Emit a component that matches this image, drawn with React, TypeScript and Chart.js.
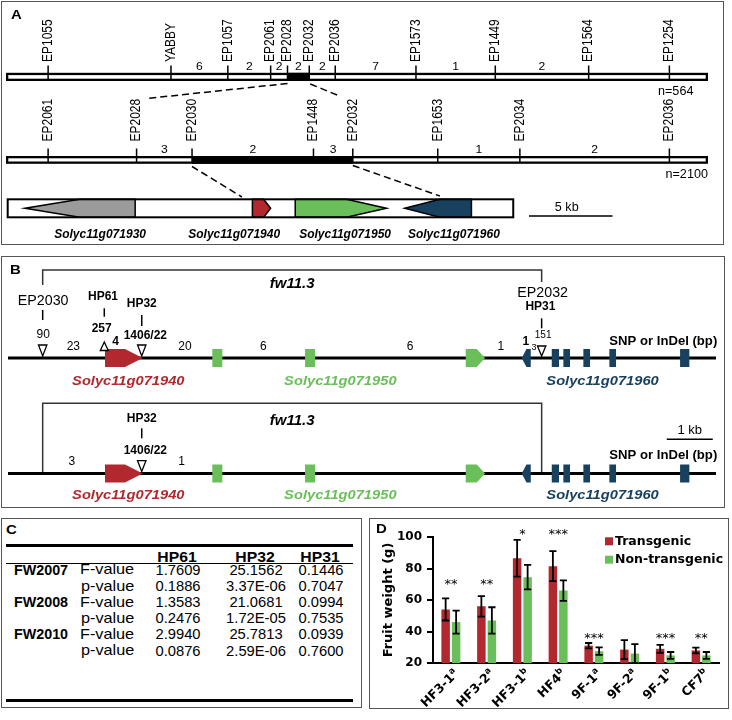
import React, { useEffect, useRef } from 'react';
import { Chart, registerables } from 'chart.js';

Chart.register(...registerables);

const SANS = '"Liberation Sans", Arial, Helvetica, sans-serif';
const DJ = '"DejaVu Sans", sans-serif';
const RED = '#b2282e';
const GREEN = '#6abf5a';
const NAVY = '#18405f';
const GREY = '#9b9b9b';

// ---------------- Panel A : genetic maps (map units 0..1000) ----------------
const mapMarkers1 = ['EP1055', 'YABBY', 'EP1057', 'EP2061', 'EP2028', 'EP2032', 'EP2036', 'EP1573', 'EP1449', 'EP1564', 'EP1254'];
const mapPos1 = [60, 235, 316, 377, 401, 432, 469, 584, 697, 830, 945];
const mapRecomb1 = ['', '6', '2', '2', '2', '2', '7', '1', '2', ''];
const mapMarkers2 = ['EP2061', 'EP2028', 'EP2030', 'EP1448', 'EP2032', 'EP1653', 'EP2034', 'EP2036'];
const mapPos2 = [60, 186, 265, 438, 494, 615, 732, 945];
const mapRecomb2 = ['', '3', '2', '3', '', '1', '2'];
const popSizes = ['n=564', 'n=2100'];

const geneNames = ['Solyc11g071930', 'Solyc11g071940', 'Solyc11g071950', 'Solyc11g071960'];
const geneColors = [GREY, RED, GREEN, NAVY];
const physGeneStart = [27, 351, 412, 568];
const physGeneHead = [105, 367, 485, 618];
const physGeneEnd = [184, 377, 542, 663];
const physGeneStrand = [-1, 1, 1, -1];
const physLabelPos = [134, 325, 483, 638];
const physRegion = [1, 724];
const physZoom = [336, 618];
const scaleBarA = [745, 864];
const scaleBarALabel = '5 kb';

// ---------------- Panel B : fine map (kb) ----------------
const bLength = 15.39;
const bBracket = [0.754, 11.6];
const bSnpLabel1 = ['90', '257', '1406/22', '151'];
const bSnpPos1 = [0.754, 2.093, 2.907, 11.6];
const bHpNames = ['', 'HP61', 'HP32', 'HP31'];
const bEpNames = ['EP2030', '', '', 'EP2032'];
const bCounts1 = ['23', '4', '20', '6', '6', '1', '1', '3'];
const bCountPos1 = [1.42, 2.337, 3.848, 5.55, 8.739, 10.711, 11.254, 11.435];
const bCountStyle1 = ['n', 'b', 'n', 'n', 'n', 'n', 'b', 's'];
const bCounts2 = ['3', '1'];
const bCountPos2 = [1.385, 3.776];
const exonStart = [2.109, 4.441, 6.457, 9.95, 11.167, 11.82, 12.072, 12.507, 13.072, 14.609];
const exonHead = [2.543, 0, 0, 10.189, 11.27, 0, 0, 0, 0, 0];
const exonEnd = [2.928, 4.659, 6.674, 10.37, 11.363, 11.978, 12.217, 12.652, 13.217, 14.811];
const exonStrand = [1, 0, 0, 1, -1, 0, 0, 0, 0, 0];
const exonGene = [0, 1, 1, 1, 2, 2, 2, 2, 2, 2];
const bGeneNames = ['Solyc11g071940', 'Solyc11g071950', 'Solyc11g071960'];
const bGeneColors = [RED, GREEN, NAVY];
const bGeneLabelPos = [2.615, 7.224, 12.924];
const bScaleBar = [14.32, 15.32];
const bScaleLabel = '1 kb';
const qtlName = 'fw11.3';

// ---------------- Panel C : table ----------------
const snpCols = ['HP61', 'HP32', 'HP31'];
const trialYears = ['FW2007', 'FW2008', 'FW2010'];
const statNames = ['F-value', 'p-value'];
const fValues = [
  ['1.7609', '25.1562', '0.1446'],
  ['1.3583', '21.0681', '0.0994'],
  ['2.9940', '25.7813', '0.0939'],
];
const pValues = [
  ['0.1886', '3.37E-06', '0.7047'],
  ['0.2476', '1.72E-05', '0.7535'],
  ['0.0876', '2.59E-06', '0.7600'],
];

// ---------------- Panel D : fruit weight ----------------
const lines = ['HF3-1', 'HF3-2', 'HF3-1', 'HF4', '9F-1', '9F-2', '9F-1', 'CF7'];
const lineSup = ['a', 'a', 'b', 'b', 'a', 'a', 'b', 'b'];
const transgenic = [54, 56, 86.5, 81.5, 31, 28.5, 29, 28];
const transgenicErr = [7, 6.5, 11.7, 9.5, 1.7, 6, 2.5, 1.8];
const nonTransgenic = [46, 47, 74.5, 66, 27.5, 26, 24.8, 24.8];
const nonTransgenicErr = [7.3, 8.4, 7.8, 6.5, 2.4, 6, 2.2, 2.2];
const significance = ['**', '**', '*', '***', '***', '', '***', '**'];
const sigLevel = [72, 72, 104, 104, 38, 0, 38, 38];
const yMin = 20;
const yMax = 100;
const yStep = 20;

// ---------------- helpers ----------------
function txt(ctx: any, s: string, x: number, y: number, font: string, o: any = {}) {
  ctx.save();
  ctx.translate(x, y);
  if (o.sx) ctx.scale(o.sx, 1);
  if (o.rot) ctx.rotate(o.rot);
  ctx.font = font;
  ctx.fillStyle = o.color || '#000';
  ctx.textAlign = o.align || 'center';
  ctx.textBaseline = o.baseline || 'alphabetic';
  ctx.fillText(s, 0, 0);
  ctx.restore();
}

function seg(ctx: any, x0: number, y0: number, x1: number, y1: number) {
  ctx.beginPath();
  ctx.moveTo(x0, y0);
  ctx.lineTo(x1, y1);
  ctx.stroke();
}

function geneShape(ctx: any, xs: number, xh: number, xe: number, strand: number, cy: number, half: number) {
  ctx.beginPath();
  if (strand > 0) {
    ctx.moveTo(xs, cy - half);
    ctx.lineTo(xh, cy - half);
    ctx.lineTo(xe, cy);
    ctx.lineTo(xh, cy + half);
    ctx.lineTo(xs, cy + half);
  } else if (strand < 0) {
    ctx.moveTo(xs, cy);
    ctx.lineTo(xh, cy - half);
    ctx.lineTo(xe, cy - half);
    ctx.lineTo(xe, cy + half);
    ctx.lineTo(xh, cy + half);
  } else {
    ctx.rect(xs, cy - half, xe - xs, 2 * half);
  }
  ctx.closePath();
}

function tri(ctx: any, x: number, y0: number, y1: number, up: boolean) {
  ctx.save();
  ctx.beginPath();
  if (up) {
    ctx.moveTo(x, y0);
    ctx.lineTo(x + 4, y1);
    ctx.lineTo(x - 4, y1);
  } else {
    ctx.moveTo(x - 4.2, y0);
    ctx.lineTo(x + 4.2, y0);
    ctx.lineTo(x, y1);
  }
  ctx.closePath();
  ctx.fillStyle = '#fff';
  ctx.fill();
  ctx.strokeStyle = '#000';
  ctx.lineWidth = 1.3;
  ctx.stroke();
  ctx.restore();
}

function drawMap(ctx: any, X: any, pos: number[], names: string[], recomb: string[], hiA: number, hiB: number, g: any) {
  const x0 = X(0);
  const x1 = X(1000);
  ctx.fillStyle = '#000';
  ctx.fillRect(x0, g.top, x1 - x0, g.h);
  ctx.fillStyle = '#fff';
  ctx.fillRect(x0 + 2.3, g.top + 2.3, x1 - x0 - 4.6, g.h - 4.6);
  ctx.fillStyle = '#000';
  ctx.fillRect(X(pos[hiA]), g.top, X(pos[hiB]) - X(pos[hiA]), g.h);
  ctx.strokeStyle = '#000';
  ctx.lineWidth = 1.5;
  pos.forEach((p, i) => {
    const x = X(p);
    seg(ctx, x, g.tickTop, x, g.top + g.h - 1.5);
    txt(ctx, names[i], x, g.labelStart, `12px ${SANS}`, { rot: -Math.PI / 2, align: 'left', baseline: 'middle', sx: 1.15 });
  });
  recomb.forEach((r, i) => {
    if (r) txt(ctx, r, (X(pos[i]) + X(pos[i + 1])) / 2, g.numBase, `11px ${SANS}`, { sx: 1.1 });
  });
}

const aPlugin = {
  id: 'panelA',
  afterDraw(chart: any) {
    const ctx = chart.ctx;
    const X = (v: number) => chart.scales.x.getPixelForValue(v);
    ctx.save();
    txt(ctx, 'A', 11, 18.5, `bold 13px ${SANS}`, { align: 'left', sx: 1.15 });
    drawMap(ctx, X, mapPos1, mapMarkers1, mapRecomb1, 4, 5, { top: 72.8, h: 8.2, tickTop: 65.5, labelStart: 62, numBase: 70 });
    drawMap(ctx, X, mapPos2, mapMarkers2, mapRecomb2, 2, 4, { top: 156, h: 7.8, tickTop: 148.5, labelStart: 141.5, numBase: 153 });
    txt(ctx, popSizes[0], 675.7, 95, `12px ${SANS}`, { sx: 1.05 });
    txt(ctx, popSizes[1], 686.7, 177.5, `12px ${SANS}`, { sx: 1.05 });

    ctx.setLineDash([7, 4]);
    ctx.lineWidth = 1.5;
    ctx.strokeStyle = '#000';
    seg(ctx, X(mapPos1[4]), 83.5, X(mapPos2[1]) + 10, 98.5);
    seg(ctx, X(mapPos1[5]) + 1, 84, X(mapPos2[4]) - 12, 96.5);
    seg(ctx, X(mapPos2[2]), 166.5, X(physZoom[0]), 197);
    seg(ctx, X(mapPos2[4]), 165.5, X(physZoom[1]), 196);
    ctx.setLineDash([]);

    const gy0 = 199.3;
    const gy1 = 217.3;
    const gcy = (gy0 + gy1) / 2;
    geneNames.forEach((n, i) => {
      geneShape(ctx, X(physGeneStart[i]), X(physGeneHead[i]), X(physGeneEnd[i]), physGeneStrand[i], gcy, 9);
      ctx.fillStyle = geneColors[i];
      ctx.fill();
      ctx.strokeStyle = '#000';
      ctx.lineWidth = 1.5;
      ctx.stroke();
      txt(ctx, n, X(physLabelPos[i]), 237.5, `italic bold 12px ${SANS}`, {});
    });
    ctx.lineWidth = 2;
    ctx.strokeStyle = '#000';
    ctx.strokeRect(X(physRegion[0]) + 1, gy0, X(physRegion[1]) - X(physRegion[0]) - 2, gy1 - gy0);

    ctx.lineWidth = 1.5;
    seg(ctx, X(scaleBarA[0]), 216, X(scaleBarA[1]), 216);
    txt(ctx, scaleBarALabel, (X(scaleBarA[0]) + X(scaleBarA[1])) / 2 - 4, 210.5, `12px ${SANS}`, { sx: 1.05 });
    ctx.restore();
  },
};

function drawBLine(ctx: any, X: any, y: number) {
  ctx.fillStyle = '#000';
  ctx.fillRect(X(0), y - 1.5, X(bLength) - X(0), 3);
  exonStart.forEach((s, i) => {
    geneShape(ctx, X(s), X(exonHead[i] || s), X(exonEnd[i]), exonStrand[i], y, 9);
    ctx.fillStyle = bGeneColors[exonGene[i]];
    ctx.fill();
  });
}

const bPlugin = {
  id: 'panelB',
  afterDraw(chart: any) {
    const ctx = chart.ctx;
    const X = (v: number) => chart.scales.x.getPixelForValue(v);
    ctx.save();
    ctx.translate(0, -250);
    txt(ctx, 'B', 10, 273.5, `bold 13px ${SANS}`, { align: 'left', sx: 1.15 });
    const xl = X(bBracket[0]);
    const xr = X(bBracket[1]);
    const BOLD12 = `bold 12px ${SANS}`;
    const REG12 = `12px ${SANS}`;

    // ---- row 1 ----
    ctx.strokeStyle = '#333';
    ctx.lineWidth = 1.5;
    ctx.beginPath();
    ctx.moveTo(xl, 285);
    ctx.lineTo(xl, 270);
    ctx.lineTo(xr, 270);
    ctx.lineTo(xr, 282);
    ctx.stroke();
    txt(ctx, qtlName, (xl + xr) / 2, 288, `italic bold 15px ${SANS}`, {});
    drawBLine(ctx, X, 358);

    const sp = bSnpPos1.map(X);
    ctx.strokeStyle = '#000';
    ctx.lineWidth = 1.5;
    // EP2030 / 90
    txt(ctx, bEpNames[0], sp[0] + 0.5, 305, `15px ${SANS}`, { sx: 0.95 });
    seg(ctx, sp[0], 310, sp[0], 320);
    txt(ctx, bSnpLabel1[0], sp[0] + 0.5, 338, REG12, {});
    tri(ctx, sp[0], 345, 356, false);
    // HP61 / 257
    txt(ctx, bHpNames[1], sp[1] - 1.3, 300, BOLD12, {});
    seg(ctx, sp[1], 308.3, sp[1], 316.7);
    txt(ctx, bSnpLabel1[1], sp[1] - 2.6, 331.7, BOLD12, {});
    // HP32 / 1406/22
    txt(ctx, bHpNames[2], sp[2], 307.3, BOLD12, {});
    seg(ctx, sp[2], 315, sp[2], 326);
    txt(ctx, bSnpLabel1[2], sp[2] + 3.6, 339.3, BOLD12, {});
    // EP2032 / HP31 / 151
    txt(ctx, bEpNames[3], sp[3] + 1, 296.5, `15px ${SANS}`, { sx: 0.95 });
    txt(ctx, bHpNames[3], sp[3] - 1.2, 309.5, BOLD12, {});
    seg(ctx, sp[3], 318.3, sp[3], 328.3);
    txt(ctx, bSnpLabel1[3], sp[3] + 1.5, 337.5, `10px ${SANS}`, {});

    bCounts1.forEach((c, i) => {
      const st = bCountStyle1[i];
      const x = X(bCountPos1[i]);
      if (st === 'b') txt(ctx, c, x, i === 1 ? 345 : 344.5, BOLD12, {});
      else if (st === 's') txt(ctx, c, x, 350, `9px ${SANS}`, {});
      else txt(ctx, c, x, 350, REG12, {});
    });
    tri(ctx, sp[1], 342, 350.5, true);
    tri(ctx, sp[2], 345, 356, false);
    tri(ctx, sp[3], 346, 356, false);
    txt(ctx, 'SNP or InDel (bp)', 663.3, 344.5, `bold 12.5px ${SANS}`, { sx: 1.05 });
    bGeneNames.forEach((n, i) => {
      txt(ctx, n, X(bGeneLabelPos[i]), 384.5, `italic bold 13px ${SANS}`, { color: bGeneColors[i], sx: 1.13 });
    });

    // ---- row 2 ----
    drawBLine(ctx, X, 473.5);
    ctx.strokeStyle = '#333';
    ctx.lineWidth = 1.5;
    ctx.beginPath();
    ctx.moveTo(xl, 472);
    ctx.lineTo(xl, 403.3);
    ctx.lineTo(xr, 403.3);
    ctx.lineTo(xr, 472);
    ctx.stroke();
    txt(ctx, qtlName, (xl + xr) / 2, 424.5, `italic bold 15px ${SANS}`, {});
    ctx.strokeStyle = '#000';
    txt(ctx, bHpNames[2], sp[2], 421.7, BOLD12, {});
    seg(ctx, sp[2], 428.3, sp[2], 438.3);
    txt(ctx, bSnpLabel1[2], sp[2] + 3.6, 454.3, BOLD12, {});
    tri(ctx, sp[2], 460.7, 471.5, false);
    bCounts2.forEach((c, i) => txt(ctx, c, X(bCountPos2[i]), 465, REG12, {}));
    ctx.lineWidth = 1.5;
    ctx.strokeStyle = '#000';
    seg(ctx, X(bScaleBar[0]), 439.3, X(bScaleBar[1]), 439.3);
    txt(ctx, bScaleLabel, (X(bScaleBar[0]) + X(bScaleBar[1])) / 2, 433.5, `13px ${SANS}`, {});
    txt(ctx, 'SNP or InDel (bp)', 663.3, 458.5, `bold 12.5px ${SANS}`, { sx: 1.05 });
    bGeneNames.forEach((n, i) => {
      txt(ctx, n, X(bGeneLabelPos[i]), 498.8, `italic bold 13px ${SANS}`, { color: bGeneColors[i], sx: 1.13 });
    });
    ctx.restore();
  },
};

const dPlugin = {
  id: 'panelD',
  afterDatasetsDraw(chart: any) {
    const ctx = chart.ctx;
    const ys = chart.scales.y;
    const errs = [transgenicErr, nonTransgenicErr];
    ctx.save();
    ctx.strokeStyle = '#000';
    ctx.lineWidth = 1.8;
    chart.data.datasets.forEach((ds: any, di: number) => {
      chart.getDatasetMeta(di).data.forEach((el: any, i: number) => {
        const v = ds.data[i];
        const e = errs[di][i];
        const t = ys.getPixelForValue(v + e);
        const b = ys.getPixelForValue(v - e);
        ctx.beginPath();
        ctx.moveTo(el.x, t);
        ctx.lineTo(el.x, b);
        ctx.moveTo(el.x - 3.6, t);
        ctx.lineTo(el.x + 3.6, t);
        ctx.moveTo(el.x - 3.6, b);
        ctx.lineTo(el.x + 3.6, b);
        ctx.stroke();
      });
    });
    ctx.restore();
  },
  afterDraw(chart: any) {
    const ctx = chart.ctx;
    const xs = chart.scales.x;
    const ys = chart.scales.y;
    const area = chart.chartArea;
    ctx.save();
    txt(ctx, 'D', 6, 14.3, `bold 13px ${SANS}`, { align: 'left', sx: 1.15 });
    significance.forEach((s, i) => {
      if (!s) return;
      txt(ctx, s, xs.getPixelForValue(i), ys.getPixelForValue(sigLevel[i]) + 7, `13px ${DJ}`, {});
    });
    chart.data.datasets.forEach((ds: any, di: number) => {
      ctx.fillStyle = ds.backgroundColor;
      ctx.fillRect(area.right - 114, area.top + 0.3 + di * 18.4, 8, 8);
      txt(ctx, ds.label, area.right - 104, area.top + 4.3 + di * 18.4, `bold 12.5px ${DJ}`, { align: 'left', baseline: 'middle' });
    });
    const mainF = `bold 12.5px ${DJ}`;
    const supF = `bold 8.5px ${DJ}`;
    lines.forEach((l, i) => {
      const xc = xs.getPixelForValue(i);
      ctx.save();
      ctx.translate(xc + 6, area.bottom + 9);
      ctx.rotate(-Math.PI / 4);
      ctx.fillStyle = '#000';
      ctx.textBaseline = 'middle';
      ctx.textAlign = 'left';
      ctx.font = mainF;
      const w = ctx.measureText(l).width;
      ctx.font = supF;
      const ws = ctx.measureText(lineSup[i]).width;
      ctx.font = mainF;
      ctx.fillText(l, -(w + ws), 0);
      ctx.font = supF;
      ctx.fillText(lineSup[i], -ws, -4);
      ctx.restore();
    });
    txt(ctx, 'Fruit weight (g)', 19, (area.top + area.bottom) / 2, `bold 13px ${DJ}`, { rot: -Math.PI / 2, baseline: 'middle' });
    ctx.restore();
  },
};

function makeA(canvas: HTMLCanvasElement) {
  return new Chart(canvas, {
    type: 'scatter',
    data: { datasets: [] },
    options: {
      animation: false,
      responsive: false,
      events: [],
      layout: { padding: { left: 6, right: 24, top: 0, bottom: 0 } },
      plugins: { legend: { display: false }, tooltip: { enabled: false } },
      scales: {
        x: { type: 'linear', min: 0, max: 1000, display: false },
        y: { type: 'linear', min: 0, max: 1, display: false },
      },
    },
    plugins: [aPlugin],
  } as any);
}

function makeB(canvas: HTMLCanvasElement) {
  return new Chart(canvas, {
    type: 'scatter',
    data: { datasets: [] },
    options: {
      animation: false,
      responsive: false,
      events: [],
      layout: { padding: { left: 8, right: 16, top: 0, bottom: 0 } },
      plugins: { legend: { display: false }, tooltip: { enabled: false } },
      scales: {
        x: { type: 'linear', min: 0, max: bLength, display: false },
        y: { type: 'linear', min: 0, max: 1, display: false },
      },
    },
    plugins: [bPlugin],
  } as any);
}

function makeD(canvas: HTMLCanvasElement) {
  const tickFont = { family: DJ, weight: 'bold', size: 12 };
  return new Chart(canvas, {
    type: 'bar',
    data: {
      labels: lines.map((l, i) => l + lineSup[i]),
      datasets: [
        { label: 'Transgenic', data: transgenic, backgroundColor: RED, barPercentage: 0.81, categoryPercentage: 0.587 },
        { label: 'Non-transgenic', data: nonTransgenic, backgroundColor: GREEN, barPercentage: 0.81, categoryPercentage: 0.587 },
      ],
    },
    options: {
      animation: false,
      responsive: false,
      events: [],
      layout: { padding: { left: 0, right: 8, top: 18, bottom: 0 } },
      plugins: { legend: { display: false }, tooltip: { enabled: false } },
      scales: {
        x: {
          grid: { display: false },
          border: { display: true, color: '#000', width: 2 },
          ticks: { display: false },
          afterFit: (s: any) => { s.height = 44; },
        },
        y: {
          min: yMin,
          max: yMax,
          ticks: { stepSize: yStep, color: '#000', font: tickFont, padding: 5 },
          grid: { display: true, drawOnChartArea: false, drawTicks: true, tickLength: 6, color: '#000', lineWidth: 2 },
          border: { display: true, color: '#000', width: 2 },
          afterFit: (s: any) => { s.width = 63; },
        },
      },
    },
    plugins: [dPlugin],
  } as any);
}

function ChartCanvas({ left, top, width, height, make }: any) {
  const ref = useRef<HTMLCanvasElement | null>(null);
  useEffect(() => {
    const c = make(ref.current);
    return () => c.destroy();
  }, []);
  return (
    <canvas
      ref={ref}
      width={width}
      height={height}
      style={{ position: 'absolute', left, top, width, height }}
    />
  );
}

function Txt({ x, y, size, bold, align, sx, children }: any) {
  const style: any = {
    position: 'absolute',
    top: y - 0.8465 * size,
    whiteSpace: 'nowrap',
    fontFamily: SANS,
    fontSize: size,
    lineHeight: `${size}px`,
    fontWeight: bold ? 700 : 400,
    color: '#000',
  };
  if (sx) {
    style.transform = `scaleX(${sx})`;
    style.transformOrigin = align === 'center' ? '50% 50%' : '0 50%';
  }
  if (align === 'center') {
    return <div style={{ ...style, left: x - 100, width: 200, textAlign: 'center' }}>{children}</div>;
  }
  return <div style={{ ...style, left: x }}>{children}</div>;
}

function Box({ left, top, width, height }: any) {
  return (
    <div
      style={{
        position: 'absolute',
        left,
        top,
        width,
        height,
        boxSizing: 'border-box',
        border: '1px solid #555',
      }}
    />
  );
}

function PanelC() {
  const colCenters = [176.5, 254.5, 319.5];
  const rowBase0 = 574.7;
  const rowStep = 16.2;
  const items: any[] = [];
  snpCols.forEach((c, j) => {
    items.push(<Txt key={'h' + j} x={colCenters[j]} y={561.3} size={15} bold align="center" sx={1.05}>{c}</Txt>);
  });
  trialYears.forEach((yr, r) => {
    const b1 = rowBase0 + rowStep * (2 * r);
    const b2 = b1 + rowStep;
    items.push(<Txt key={'y' + r} x={14} y={b1} size={14.3} bold>{yr}</Txt>);
    items.push(<Txt key={'f' + r} x={79.5} y={b1} size={14.5} sx={1.12}>{statNames[0]}</Txt>);
    items.push(<Txt key={'p' + r} x={80.5} y={b2} size={14.5} sx={1.12}>{statNames[1]}</Txt>);
    fValues[r].forEach((v, j) => {
      items.push(<Txt key={'fv' + r + j} x={colCenters[j] + 1} y={b1} size={14.3} align="center" sx={1.03}>{v}</Txt>);
    });
    pValues[r].forEach((v, j) => {
      items.push(<Txt key={'pv' + r + j} x={colCenters[j] + 1} y={b2} size={14.3} align="center" sx={1.03}>{v}</Txt>);
    });
  });
  return (
    <>
      <Txt x={6} y={534} size={13} bold sx={1.15}>C</Txt>
      <div style={{ position: 'absolute', left: 6, top: 544, width: 347, height: 3, background: '#000' }} />
      <div style={{ position: 'absolute', left: 6, top: 563, width: 347, height: 1, background: '#000' }} />
      <div style={{ position: 'absolute', left: 6, top: 699, width: 347, height: 3, background: '#000' }} />
      {items}
    </>
  );
}

export default function App() {
  return (
    <div style={{ position: 'absolute', left: 0, top: 0, width: 732, height: 720, background: '#fff', overflow: 'hidden' }}>
      <Box left={1} top={1} width={723} height={244} />
      <Box left={1} top={256} width={724} height={252} />
      <Box left={1} top={518} width={361} height={190} />
      <Box left={369} top={518} width={360} height={191} />
      <ChartCanvas left={0} top={0} width={732} height={250} make={makeA} />
      <ChartCanvas left={0} top={250} width={732} height={262} make={makeB} />
      <PanelC />
      <ChartCanvas left={370} top={519} width={357} height={188} make={makeD} />
    </div>
  );
}
